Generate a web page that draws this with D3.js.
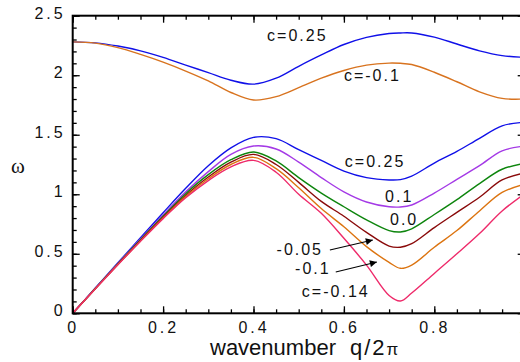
<!DOCTYPE html>
<html>
<head>
  <meta charset="utf-8">
  <title>dispersion curves</title>
  <script src="https://cdnjs.cloudflare.com/ajax/libs/d3/7.8.5/d3.min.js"></script>
  <style>
    html, body { margin: 0; padding: 0; background: #fff; }
    svg { display: block; }
    svg text { font-family: "Liberation Sans", Arial, sans-serif; fill: #111; }
  </style>
</head>
<body>
<svg id="chart" width="520" height="362"></svg>

<script>

  // wavenumber grid q/2pi (0.725 added to catch the sharp minimum)
  var qValues = [0, 0.05, 0.1, 0.15, 0.2, 0.25, 0.3, 0.35, 0.4, 0.45, 0.5, 0.55, 0.6, 0.65, 0.7, 0.725, 0.75, 0.8, 0.85, 0.9, 0.95, 1.0];

  // upper branch
  var upperC025  = [2.28, 2.272, 2.245, 2.205, 2.15, 2.085, 2.022, 1.958, 1.925, 1.975, 2.075, 2.17, 2.258, 2.318, 2.35, 2.355, 2.355, 2.32, 2.262, 2.205, 2.165, 2.15];
  var upperCm01  = [2.28, 2.27, 2.232, 2.175, 2.11, 2.035, 1.952, 1.855, 1.792, 1.82, 1.895, 1.975, 2.04, 2.085, 2.102, 2.1, 2.09, 2.025, 1.945, 1.86, 1.805, 1.80];

  // lower branch
  var lowerC025  = [0, 0.212, 0.424, 0.635, 0.845, 1.05, 1.24, 1.39, 1.478, 1.467, 1.375, 1.285, 1.195, 1.14, 1.12, 1.123, 1.152, 1.262, 1.36, 1.47, 1.575, 1.605];
  var lowerC01   = [0, 0.21, 0.42, 0.625, 0.825, 1.02, 1.19, 1.335, 1.405, 1.38, 1.27, 1.14, 1.02, 0.935, 0.895, 0.893, 0.91, 1.01, 1.125, 1.24, 1.365, 1.405];
  var lowerC00   = [0, 0.208, 0.415, 0.618, 0.815, 1.005, 1.165, 1.29, 1.355, 1.28, 1.14, 1.01, 0.895, 0.785, 0.695, 0.683, 0.71, 0.83, 0.955, 1.09, 1.21, 1.26];
  var lowerCm005 = [0, 0.207, 0.412, 0.612, 0.807, 0.99, 1.145, 1.27, 1.335, 1.25, 1.1, 0.94, 0.815, 0.68, 0.565, 0.555, 0.585, 0.72, 0.848, 0.975, 1.12, 1.18];
  var lowerCm01  = [0, 0.206, 0.41, 0.608, 0.8, 0.98, 1.13, 1.25, 1.31, 1.215, 1.055, 0.88, 0.727, 0.56, 0.428, 0.378, 0.405, 0.555, 0.695, 0.86, 1.015, 1.085];
  var lowerCm014 = [0, 0.205, 0.408, 0.605, 0.795, 0.97, 1.115, 1.23, 1.285, 1.185, 1.0, 0.84, 0.63, 0.405, 0.15, 0.103, 0.17, 0.335, 0.5, 0.67, 0.86, 1.005];

  var xTicks = [0, 0.2, 0.4, 0.6, 0.8, 1];
  var xTickLabels = ["0", "0.2", "0.4", "0.6", "0.8", "1"];
  var yTicks = [0, 0.5, 1, 1.5, 2, 2.5];
  var yTickLabels = ["0", "0.5", "1", "1.5", "2", "2.5"];

  // curve labels, anchored in data units (q, omega)
  var curveLabels = [
    { text: "c=0.25",  q: 0.430, w: 2.287 },
    { text: "c=-0.1",  q: 0.600, w: 1.951 },
    { text: "c=0.25",  q: 0.602, w: 1.233 },
    { text: "0.1",     q: 0.691, w: 0.937 },
    { text: "0.0",     q: 0.702, w: 0.742 },
    { text: "-0.05",   q: 0.451, w: 0.490 },
    { text: "-0.1",    q: 0.492, w: 0.330 },
    { text: "c=-0.14", q: 0.507, w: 0.139 }
  ];
  var arrows = [
    { q0: 0.569, w0: 0.532, q1: 0.664, w1: 0.616 },
    { q0: 0.582, w0: 0.347, q1: 0.673, w1: 0.431 }
  ];

  var series = [
    { values: upperC025,  color: "#1010e8" },
    { values: upperCm01,  color: "#d8731f" },
    { values: lowerC025,  color: "#1010e8" },
    { values: lowerC01,   color: "#a43ae6" },
    { values: lowerC00,   color: "#0d850d" },
    { values: lowerCm005, color: "#8a0a0a" },
    { values: lowerCm01,  color: "#dc7410" },
    { values: lowerCm014, color: "#ee2a6a" }
  ];

  //---
  // Scales (the right edge of the frame falls just outside the picture)
  // Note: 'top' is taken by window.top, hence the plot* names.
  //
  var plotLeft = 72.7, plotRight = 524.7, plotTop = 15.7, plotBottom = 313.3;
  var x = d3.scaleLinear().domain([0, 1]).range([plotLeft, plotRight]);
  var y = d3.scaleLinear().domain([0, 2.5]).range([plotBottom, plotTop]);

  var svg = d3.select("#chart");

  svg.append("defs").append("marker")
    .attr("id", "head")
    .attr("viewBox", "0 0 10 10")
    .attr("refX", 10).attr("refY", 5)
    .attr("markerWidth", 9).attr("markerHeight", 7)
    .attr("markerUnits", "userSpaceOnUse")
    .attr("orient", "auto")
    .append("path").attr("d", "M0,0 L10,5 L0,10 z").attr("fill", "#000");

  // curves
  var line = d3.line()
    .x(function (d, i) { return x(qValues[i]); })
    .y(function (d) { return y(d); })
    .curve(d3.curveCatmullRom.alpha(0.5));

  svg.append("g").selectAll("path").data(series).enter()
    .append("path")
    .attr("d", function (s) { return line(s.values); })
    .attr("fill", "none")
    .attr("stroke", function (s) { return s.color; })
    .attr("stroke-width", 1.4);

  //---
  // Axes: inward ticks on all four sides
  //
  function minor(axis, n) { return axis.ticks(n).tickFormat("").tickSize(-4); }

  var gB = svg.append("g").attr("transform", "translate(0," + plotBottom + ")");
  gB.call(minor(d3.axisBottom(x), 20));
  gB.append("g").call(d3.axisBottom(x).tickValues(xTicks)
    .tickFormat(function (d, i) { return xTickLabels[i]; }).tickSize(-7).tickPadding(8));

  var gT = svg.append("g").attr("transform", "translate(0," + plotTop + ")");
  gT.call(minor(d3.axisTop(x), 20));
  gT.append("g").call(d3.axisTop(x).tickValues(xTicks).tickFormat("").tickSize(-7));

  var gL = svg.append("g").attr("transform", "translate(" + plotLeft + ",0)");
  gL.call(minor(d3.axisLeft(y), 25));
  gL.append("g").call(d3.axisLeft(y).tickValues(yTicks)
    .tickFormat(function (d, i) { return yTickLabels[i]; }).tickSize(-7).tickPadding(7));

  var gR = svg.append("g").attr("transform", "translate(" + plotRight + ",0)");
  gR.call(minor(d3.axisRight(y), 25));
  gR.append("g").call(d3.axisRight(y).tickValues(yTicks).tickFormat("").tickSize(-7));

  svg.selectAll(".domain").remove();
  svg.selectAll(".tick line").attr("stroke", "#000").attr("stroke-width", 1.3);
  svg.selectAll(".tick text")
    .attr("font-size", 16)
    .attr("letter-spacing", "3px")
    .attr("fill", "#111");
  gL.selectAll(".tick text").attr("dy", "0.15em");

  svg.append("rect")
    .attr("x", plotLeft).attr("y", plotTop)
    .attr("width", plotRight - plotLeft).attr("height", plotBottom - plotTop)
    .attr("fill", "none").attr("stroke", "#000").attr("stroke-width", 2);

  //---
  // Annotations
  //
  svg.append("g").selectAll("text").data(curveLabels).enter()
    .append("text")
    .attr("x", function (d) { return x(d.q); })
    .attr("y", function (d) { return y(d.w); })
    .attr("font-size", 16)
    .attr("letter-spacing", "2px")
    .text(function (d) { return d.text; });

  svg.append("g").selectAll("line").data(arrows).enter()
    .append("line")
    .attr("x1", function (d) { return x(d.q0); })
    .attr("y1", function (d) { return y(d.w0); })
    .attr("x2", function (d) { return x(d.q1); })
    .attr("y2", function (d) { return y(d.w1); })
    .attr("stroke", "#000").attr("stroke-width", 1.1)
    .attr("marker-end", "url(#head)");

  // axis titles
  var xt = svg.append("text").attr("x", 210).attr("y", 355).attr("font-size", 22);
  xt.append("tspan").text("wavenumber");
  xt.append("tspan").attr("dx", 14).attr("letter-spacing", "2px").text("q/2");
  xt.append("tspan").attr("font-size", 17).text("\u03c0");

  // the stylesheet would win over a font-family attribute, so use style()
  svg.append("text")
    .attr("x", 18).attr("y", 173)
    .attr("text-anchor", "middle")
    .style("font-family", "'Liberation Serif', 'DejaVu Serif', serif")
    .attr("font-size", 21)
    .text("\u03c9");

</script>
</body>
</html>
